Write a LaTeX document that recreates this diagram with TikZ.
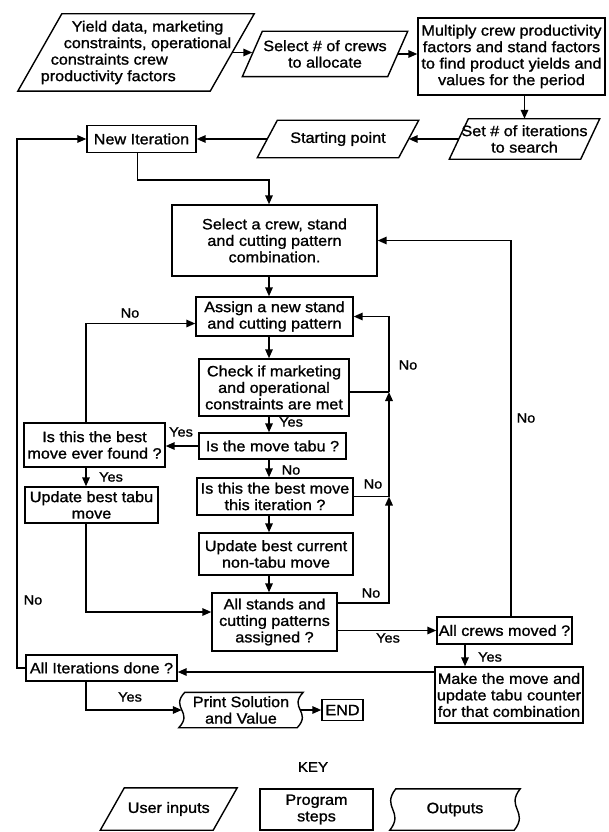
\documentclass[tikz,border=0pt]{standalone}
\usepackage{fontspec}
\setmainfont{Liberation Sans}[FakeStretch=1.08,FakeBold=1.2]
\usetikzlibrary{arrows.meta,calc}
\newcommand\fsmain{\fontsize{15}{16.5}\selectfont}
\newcommand\fslab{\fontsize{13.5}{15}\selectfont}
\begin{document}
\begin{tikzpicture}[x=1pt,y=-1pt,
  every node/.style={inner sep=0pt},
  txt/.style={font=\fsmain, align=center},
  box/.style={txt, draw, line width=1.4pt},
  para/.style={txt},
  lab/.style={font=\fslab},
  ln/.style={line width=1.6pt},
  arr/.style={ln, -{Triangle[length=9pt,width=7.5pt]}},
  outl/.style={line width=1.4pt, line join=miter}
]
\useasboundingbox (0,0) rectangle (609,832);

% ---------- nodes ----------
\node[para, align=left, minimum width=192pt, minimum height=77pt] (yield) at (136,52.5)
  {\hspace*{31pt}Yield data, marketing\\\hspace*{23pt}constraints, operational\\\hspace*{10pt}constraints crew\\productivity factors};
\node[para, minimum width=145pt, minimum height=45pt] (crews) at (325,54) {Select \# of crews\\to allocate};
\node[box, minimum width=187pt, minimum height=77pt] (multiply) at (511.5,56.5)
  {Multiply crew productivity\\factors and stand factors\\to find product yields and\\values for the period};
\node[para, minimum width=131pt, minimum height=40pt] (setit) at (524.5,139) {Set \# of iterations\\to search};
\node[para, minimum width=141pt, minimum height=37pt] (start) at (338,139) {Starting point};
\node[box, minimum width=109pt, minimum height=27pt] (newit) at (141.5,139) {New Iteration};
\node[box, minimum width=205pt, minimum height=71pt] (select) at (274.5,240.5) {Select a crew, stand\\and cutting pattern\\combination.};
\node[box, minimum width=157pt, minimum height=39pt] (assign) at (274.5,316.5) {Assign a new stand\\and cutting pattern};
\node[box, minimum width=150pt, minimum height=57pt] (check) at (274,387.5) {Check if marketing\\and operational\\constraints are met};
\node[box, minimum width=147pt, minimum height=26pt] (tabu) at (272.5,446) {Is the move tabu ?};
\node[box, minimum width=141pt, minimum height=44pt] (bestever) at (94.5,445) {Is this the best\\move ever found ?};
\node[box, minimum width=133pt, minimum height=36pt] (updtabu) at (91.5,505) {Update best tabu\\move};
\node[box, minimum width=156pt, minimum height=37pt] (bestiter) at (275,496.5) {Is this the best move\\this iteration ?};
\node[box, minimum width=154pt, minimum height=42pt] (updcur) at (276,554) {Update best current\\non-tabu move};
\node[box, minimum width=125pt, minimum height=58pt] (allstands) at (274.5,622) {All stands and\\cutting patterns\\assigned ?};
\node[box, minimum width=135pt, minimum height=27pt] (allcrews) at (504.5,630.5) {All crews moved ?};
\node[box, minimum width=148pt, minimum height=56pt] (makemove) at (509,695) {Make the move and\\update tabu counter\\for that combination};
\node[box, minimum width=151pt, minimum height=26pt] (allit) at (101.5,668) {All Iterations done ?};
\node[txt, minimum width=118pt, minimum height=35pt] (print) at (241,710) {Print Solution\\and Value};
\node[box, minimum width=41pt, minimum height=21pt] (end) at (342.5,710) {END};

% key
\node[txt, font=\fontsize{14}{16}\selectfont] (keyt) at (313,767) {KEY};
\node[para, minimum width=112.5pt, minimum height=42pt] (keyin) at (168.75,809) {User inputs};
\node[box, minimum width=113pt, minimum height=41pt] (keyprog) at (316.5,809.5) {Program\\steps};
\node[txt, minimum width=124pt, minimum height=41pt] (keyout) at (455,809.5) {Outputs};

% ---------- outlines of parallelograms and output shapes ----------
\foreach \n/\s in {yield/22pt, crews/10pt, setit/9.5pt, start/10pt, keyin/12pt}{
  \draw[outl] ([xshift=\s]\n.north west) -- ([xshift=\s]\n.north east)
     -- ([xshift=-\s]\n.south east) -- ([xshift=-\s]\n.south west) -- cycle;
}
\foreach \n/\h in {print/16, keyout/19}{
  \draw[outl] ([xshift=3pt]\n.north west) -- ([xshift=3pt]\n.north east)
     .. controls +(-15,\h) and +(15,-\h) .. ([xshift=-3pt]\n.south east)
     -- ([xshift=-3pt]\n.south west)
     .. controls +(15,-\h) and +(-15,\h) .. ([xshift=3pt]\n.north west) -- cycle;
}

% ---------- helper coordinates ----------
\coordinate (cx) at (269,0);
\coordinate (lx) at (86,0);
\coordinate (rx) at (389,0);
\coordinate (bx) at (511,0);
\coordinate (ox) at (17,0);
\coordinate (ax) at (465,0);
\coordinate (jchk) at ([yshift=-4.5pt]check.east);
\coordinate (jall) at ([yshift=19pt]allstands.east);
\coordinate (jtab) at ([yshift=10pt]allstands.west);
\coordinate (jasl) at ([yshift=-7pt]assign.west);
\coordinate (jit) at ([yshift=-4pt]allit.east);
\coordinate (jnew) at ([xshift=-4pt]newit.south);

% ---------- connectors ----------
\draw[arr] (yield.east) -- (yield.east -| crews.west);
\draw[arr] (crews.east) -- (crews.east -| multiply.west);
\draw[arr] (setit.north |- multiply.south) -- (setit.north);
\draw[arr] (setit.west) -- (start.east);
\draw[arr] (start.west) -- (newit.east);
\draw[arr] (jnew) -- ++(0,27) -| (select.north -| cx);

\draw[arr] (select.south -| cx) -- (assign.north -| cx);
\draw[arr] (assign.south -| cx) -- (check.north -| cx);
\draw[arr] (check.south -| cx) -- (tabu.north -| cx);
\draw[arr] (tabu.south -| cx) -- (bestiter.north -| cx);
\draw[arr] (bestiter.south -| cx) -- (updcur.north -| cx);
\draw[arr] (updcur.south -| cx) -- (allstands.north -| cx);

\draw[arr] (tabu.west) -- (tabu.west -| bestever.east);
\draw[arr] (bestever.south -| lx) -- (updtabu.north -| lx);
\draw[arr] (updtabu.south -| lx) |- (jtab);
\draw[arr] (bestever.north -| lx) |- (jasl);

\draw[arr] (jall) -| (bestiter.east -| rx);
\draw[ln] (bestiter.east) -- (bestiter.east -| rx);
\draw[arr] (bestiter.east -| rx) -- (jchk -| rx);
\draw[ln] (jchk) -- (jchk -| rx);
\draw[arr] (jchk -| rx) |- (assign.east);

\draw[arr] (allcrews.north -| bx) |- (select.east);
\draw[arr] (allcrews.west -| allstands.east) -- (allcrews.west);
\draw[arr] (allcrews.south -| ax) -- (makemove.north -| ax);
\draw[arr] (jit -| makemove.west) -- (jit);
\draw[arr] (allit.west) -- (allit.west -| ox) |- (newit.west);
\draw[arr] (allit.south -| lx) |- (print.west);
\draw[arr] (print.east) -- (print.east -| end.west);

% ---------- labels ----------
\node[lab] (lno1) at (130,313) {No};
\node[lab] (lno2) at (408,365) {No};
\node[lab] (lno3) at (373,484) {No};
\node[lab] (lno4) at (371,593) {No};
\node[lab] (lno5) at (526,418) {No};
\node[lab] (lno6) at (33,600) {No};
\node[lab] (lno7) at (291,470) {No};
\node[lab] (lyes1) at (291,422) {Yes};
\node[lab] (lyes2) at (181,432) {Yes};
\node[lab] (lyes3) at (111,477) {Yes};
\node[lab] (lyes4) at (388,638) {Yes};
\node[lab] (lyes5) at (490,657) {Yes};
\node[lab] (lyes6) at (130,697) {Yes};
\end{tikzpicture}
\end{document}
